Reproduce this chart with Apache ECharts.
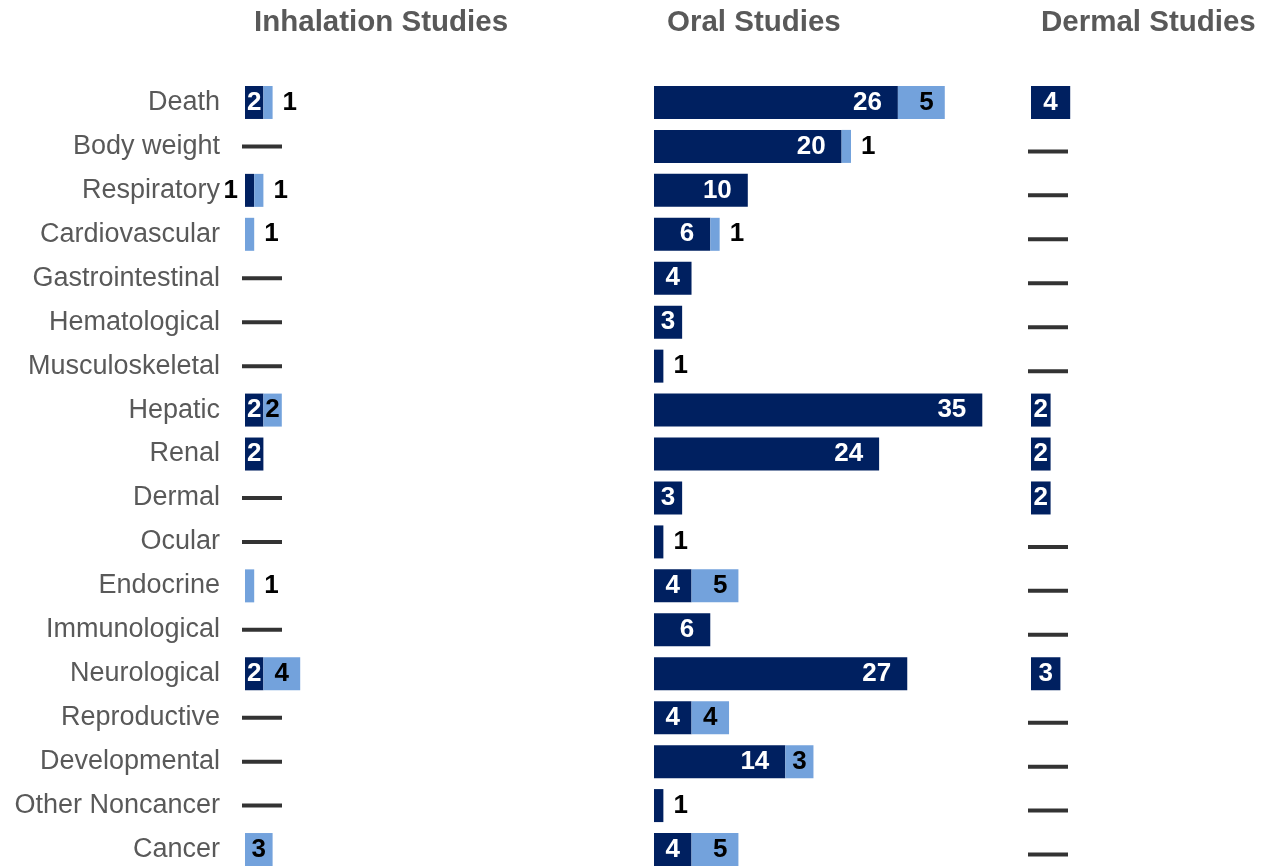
<!DOCTYPE html>
<html>
<head>
<meta charset="utf-8">
<script src="https://cdn.jsdelivr.net/npm/echarts@6/dist/echarts.min.js"></script>
<style>
html,body{margin:0;padding:0;background:#fff;overflow:hidden;}
#chart{width:1270px;height:900px;}
</style>
</head>
<body>
<div id="chart"></div>
<script>
// ---- Data ----
var categories = ["Death","Body weight","Respiratory","Cardiovascular","Gastrointestinal","Hematological","Musculoskeletal","Hepatic","Renal","Dermal","Ocular","Endocrine","Immunological","Neurological","Reproductive","Developmental","Other Noncancer","Cancer"];
var panelTitles = ["Inhalation Studies","Oral Studies","Dermal Studies"];
var inhalationDark  = [2,0,1,0,0,0,0,2,2,0,0,0,0,2,0,0,0,0];
var inhalationLight = [1,0,1,1,0,0,0,2,0,0,0,1,0,4,0,0,0,3];
var oralDark  = [26,20,10,6,4,3,1,35,24,3,1,4,6,27,4,14,1,4];
var oralLight = [5,1,0,1,0,0,0,0,0,0,0,5,0,0,4,3,0,5];
var dermalDark  = [4,0,0,0,0,0,0,2,2,2,0,0,0,3,0,0,0,0];
var dermalLight = [0,0,0,0,0,0,0,0,0,0,0,0,0,0,0,0,0,0];

// ---- Layout ----
var DARK = '#002060', LIGHT = '#73a2dc';
var FONT = "'Liberation Sans', Arial, sans-serif";
var TOP = 80.5, HEIGHT = 791;
var panels = [
  {dark: inhalationDark, light: inhalationLight, left: 245, scale: 9.2, max: 40, dashDy: 0},
  {dark: oralDark, light: oralLight, left: 654, scale: 9.38, max: 40, dashDy: 0},
  {dark: dermalDark, light: dermalLight, left: 1031, scale: 9.8, max: 24, dashDy: 5}
];
var labelBase = {show: true, fontFamily: FONT, fontWeight: 'bold', fontSize: 26};

function darkItem(v, l, scale) {
  if (v === 0) return {value: v, label: {show: false}};
  var lab;
  if (v === 1) {
    lab = (l > 0) ? {position: 'left', distance: 7, color: '#000'} : {position: 'right', distance: 10, color: '#000'};
  } else if (v * scale >= 45) {
    lab = {position: 'insideRight', distance: 16, color: '#fff'};
  } else {
    lab = {position: 'inside', color: '#fff'};
  }
  return {value: v, label: Object.assign({}, labelBase, lab)};
}
function lightItem(v, scale) {
  if (v === 0) return {value: v, label: {show: false}};
  var lab;
  if (v === 1) lab = {position: 'right', distance: 10, color: '#000'};
  else if (v * scale >= 45) lab = {position: 'insideRight', distance: 11, color: '#000'};
  else lab = {position: 'inside', color: '#000'};
  return {value: v, label: Object.assign({}, labelBase, lab)};
}

var grid = [], xAxis = [], yAxis = [], series = [], title = [];
var titleLefts = [254, 667, 1041];
panels.forEach(function(p, i) {
  grid.push({left: p.left, top: TOP, height: HEIGHT, width: p.scale * p.max});
  xAxis.push({gridIndex: i, type: 'value', min: 0, max: p.max, show: false, splitLine: {show: false}});
  yAxis.push({
    gridIndex: i, type: 'category', data: categories, inverse: true,
    axisLine: {show: false}, axisTick: {show: false}, splitLine: {show: false},
    axisLabel: {show: i === 0, fontFamily: FONT, fontSize: 27, color: '#595959', margin: 25}
  });
  series.push({
    type: 'bar', xAxisIndex: i, yAxisIndex: i, stack: 's' + i, barWidth: 33,
    itemStyle: {color: DARK},
    data: p.dark.map(function(v, k) { return darkItem(v, p.light[k], p.scale); })
  });
  series.push({
    type: 'bar', xAxisIndex: i, yAxisIndex: i, stack: 's' + i, barWidth: 33,
    itemStyle: {color: LIGHT},
    data: p.light.map(function(v) { return lightItem(v, p.scale); })
  });
  var zeros = [];
  p.dark.forEach(function(v, k) { if (v + p.light[k] === 0) zeros.push([0, k]); });
  series.push({
    type: 'scatter', xAxisIndex: i, yAxisIndex: i, symbol: 'rect',
    symbolSize: [40, 4], symbolOffset: [17, p.dashDy],
    itemStyle: {color: '#000'}, data: zeros, silent: true
  });
  title.push({
    text: panelTitles[i], left: titleLefts[i], top: 8, padding: 0,
    textStyle: {fontFamily: FONT, fontWeight: 'bold', fontSize: 29.5, color: '#595959'}
  });
});

var chart = echarts.init(document.getElementById('chart'));
chart.setOption({
  animation: false,
  title: title,
  grid: grid,
  xAxis: xAxis,
  yAxis: yAxis,
  series: series
});
</script>
</body>
</html>
